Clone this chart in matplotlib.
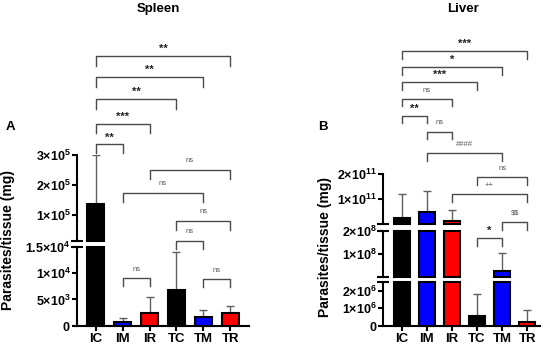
import numpy as np
import matplotlib.pyplot as plt
from matplotlib.transforms import blended_transform_factory

plt.rcParams['font.family'] = ['Liberation Sans', 'DejaVu Sans']
plt.rcParams['mathtext.fontset'] = 'custom'
plt.rcParams['mathtext.rm'] = 'Liberation Sans'
plt.rcParams['mathtext.bf'] = 'Liberation Sans:bold'

groups = ['IC', 'IM', 'IR', 'TC', 'TM', 'TR']
colors = ['black', 'blue', 'red', 'black', 'blue', 'red']

# spleen: mean and SD (parasites / mg)
spleen_mean = [1.36e5, 770, 2500, 6850, 1750, 2500]
spleen_sd = [1.63e5, 780, 3000, 7150, 1150, 1200]

# liver: mean and SD
liver_mean = [2.6e10, 4.9e10, 1.3e10, 5.5e5, 2.6e7, 2.2e5]
liver_sd = [9.4e10, 8.4e10, 4.6e10, 1.23e6, 7.7e7, 6.6e5]

# significance brackets: (group a, group b, label)
spleen_sig = [(0, 5, '**'), (0, 4, '**'), (0, 3, '**'), (0, 2, '***'), (0, 1, '**'),
              (2, 5, 'ns'), (1, 4, 'ns'), (3, 5, 'ns'), (3, 4, 'ns'), (1, 2, 'ns'), (4, 5, 'ns')]
liver_sig = [(0, 5, '***'), (0, 4, '*'), (0, 3, '***'), (0, 2, 'ns'), (0, 1, '**'), (1, 2, 'ns'),
             (1, 4, '####'), (3, 5, 'ns'), (2, 5, '++'), (4, 5, '$$'), (3, 4, '*')]

W, H = 550, 353
fig = plt.figure(figsize=(W / 100, H / 100), dpi=100)


def fy(px):
    return 1 - px / H


def tick_label(v):
    if v == 0:
        return r'$\mathbf{0}$'
    e = int(np.floor(np.log10(v) + 1e-9))
    m = v / 10 ** e
    return r'$\mathbf{%s×10^{%d}}$' % ('%g' % m, e)


def segment(x0, x1, y_bot, y_top, ylim, ticks, xlim, mean, sd, first, last):
    ax = fig.add_axes([x0 / W, fy(y_bot), (x1 - x0) / W, (y_bot - y_top) / H])
    lo, hi = ylim
    ax.set_xlim(*xlim)
    ax.set_ylim(lo, hi)
    x = np.arange(len(groups))
    for i in x:
        m, s = mean[i], sd[i]
        if m > lo:
            h = min(m, hi)
            ax.bar(i, h - lo, bottom=lo, width=0.64, color=colors[i], edgecolor='black',
                   linewidth=1.5, clip_on=False, zorder=3)
        if m < hi and m + s > lo:
            ax.errorbar(i, m, yerr=[[0], [s]], fmt='none', ecolor='#5f5f5f',
                        elinewidth=1, capsize=3, capthick=1, zorder=2)
    for s in ['top', 'right']:
        ax.spines[s].set_visible(False)
    ax.spines['left'].set_linewidth(1.5)
    ax.set_yticks(ticks)
    ax.set_yticklabels([tick_label(t) for t in ticks], fontsize=9)
    ax.tick_params(axis='y', length=3.5, width=1.5, pad=1)
    if first:
        ax.spines['bottom'].set_linewidth(1.5)
        ax.set_xticks(x)
        ax.set_xticklabels(groups, fontsize=9.5, fontweight='bold')
        ax.tick_params(axis='x', length=3.5, width=1.5, pad=2)
    else:
        ax.spines['bottom'].set_visible(False)
        ax.set_xticks([])
        ax.plot([0], [0], marker='_', ms=8, mew=1.5, color='black',
                transform=ax.transAxes, clip_on=False)
    if not last:
        ax.plot([0], [1], marker='_', ms=8, mew=1.5, color='black',
                transform=ax.transAxes, clip_on=False)
    ax.patch.set_alpha(0)
    return ax


def brackets(ax, sig, levels):
    tr = blended_transform_factory(ax.transData, fig.transFigure)
    for (a, b, lab), (y, d) in zip(sig, levels):
        yl, yd = fy(y), fy(y + d)
        ax.plot([a, a, b, b], [yd, yl, yl, yd], color='#4a4a4a', lw=1,
                transform=tr, clip_on=False)
        if lab == 'ns' or lab[0] in '#+$':
            ax.text((a + b) / 2, fy(y - 9), lab, transform=tr, ha='center', va='center',
                    fontsize=5.5, color='#555555', parse_math=False)
        else:
            ax.text((a + b) / 2, fy(y - 7), lab, transform=tr, ha='center', va='center',
                    fontsize=8, fontweight='bold', color='#222222', parse_math=False)


# Spleen
sx = (-0.7, 5.7)
segment(77, 249, 325.7, 247, (0, 1.5e4), [0, 5e3, 1e4, 1.5e4], sx,
        spleen_mean, spleen_sd, True, False)
sp_top = segment(77, 249, 241, 155, (1.5e4, 3e5), [1e5, 2e5, 3e5], sx,
                 spleen_mean, spleen_sd, False, True)
brackets(sp_top, spleen_sig, [(56, 10), (77.3, 10), (98.7, 10), (124.3, 9), (144.5, 8),
                              (170, 9), (192.7, 9), (220.7, 9), (240.7, 8), (278.3, 8), (279.3, 8)])

# Liver
lx = (-0.73, 5.51)
segment(383.3, 540, 325.7, 281.7, (0, 2.5e6), [0, 1e6, 2e6], lx,
        liver_mean, liver_sd, True, False)
segment(383.3, 540, 276.5, 230.5, (2.5e6, 2e8), [1e8, 2e8], lx,
        liver_mean, liver_sd, False, False)
lv_top = segment(383.3, 540, 224.5, 174, (2e8, 2e11), [1e11, 2e11], lx,
                 liver_mean, liver_sd, False, True)
brackets(lv_top, liver_sig, [(51, 8), (66.7, 8), (82.3, 8), (99.3, 7), (115.7, 7), (131.7, 7),
                             (153.3, 8), (177, 8), (194.3, 8), (221.7, 8), (237.7, 8)])

fig.text(158 / W, fy(9), 'Spleen', ha='center', va='center', fontsize=9.5, fontweight='bold')
fig.text(463 / W, fy(9), 'Liver', ha='center', va='center', fontsize=9.5, fontweight='bold')
fig.text(10 / W, fy(127), 'A', ha='center', va='center', fontsize=9.5, fontweight='bold')
fig.text(323 / W, fy(127), 'B', ha='center', va='center', fontsize=9.5, fontweight='bold')
fig.text(8 / W, fy(240), 'Parasites/tissue (mg)', rotation=90, ha='center', va='center',
         fontsize=10, fontweight='bold')
fig.text(325 / W, fy(247), 'Parasites/tissue (mg)', rotation=90, ha='center', va='center',
         fontsize=10, fontweight='bold')

fig.savefig('out.png', dpi=100)
